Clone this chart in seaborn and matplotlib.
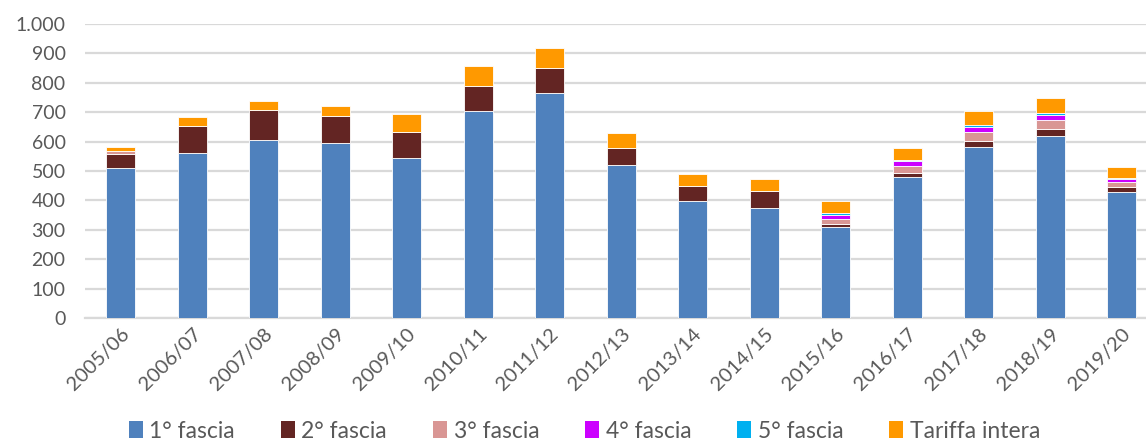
import numpy as np
import pandas as pd
import matplotlib
matplotlib.use("Agg")
import matplotlib.pyplot as plt
from matplotlib.patches import Patch
import seaborn as sns

years = ["2005/06", "2006/07", "2007/08", "2008/09", "2009/10", "2010/11", "2011/12",
         "2012/13", "2013/14", "2014/15", "2015/16", "2016/17", "2017/18", "2018/19", "2019/20"]
fascia1 = [510, 562, 607, 594, 543, 704, 765, 521, 398, 375, 310, 479, 582, 620, 428]
fascia2 = [49, 92, 102, 94, 89, 86, 84, 58, 51, 56, 10, 14, 21, 24, 17]
fascia3 = [8, 0, 0, 0, 0, 0, 0, 0, 0, 0, 18, 24, 30, 29, 18]
fascia4 = [0, 0, 0, 0, 0, 0, 0, 0, 0, 0, 14, 16, 16, 16, 11]
fascia5 = [0, 0, 0, 0, 0, 0, 0, 0, 0, 0, 5, 4, 6, 7, 3]
tariffa = [14, 31, 29, 33, 62, 68, 68, 49, 41, 42, 40, 41, 48, 52, 37]

series_names = ["1° fascia", "2° fascia", "3° fascia", "4° fascia", "5° fascia", "Tariffa intera"]
series_vals = [fascia1, fascia2, fascia3, fascia4, fascia5, tariffa]
colors = ["#4F81BD", "#632523", "#D99694", "#CC00FF", "#00B0F0", "#FF9900"]
yticks = [0, 100, 200, 300, 400, 500, 600, 700, 800, 900, 1000]
ytick_labels = ["0", "100", "200", "300", "400", "500", "600", "700", "800", "900", "1.000"]

sns.set_theme(style="white")
plt.rcParams["font.family"] = ["Lato", "DejaVu Sans"]

fig = plt.figure(figsize=(11.46, 4.43), dpi=100)
ax = fig.add_axes([85 / 1146, 1 - 318 / 443, 1072.5 / 1146, 294 / 443])

bottom = np.zeros(len(years))
for name, vals, col in zip(series_names, series_vals, colors):
    df = pd.DataFrame({"anno": years, "v": vals})
    sns.barplot(data=df, x="anno", y="v", bottom=bottom, color=col, width=0.41,
                edgecolor="#FFFFFF", linewidth=0.6, ax=ax, saturation=1, zorder=3)
    bottom = bottom + np.array(vals)

ax.set_ylim(0, 1000)
ax.set_xlim(-0.5, len(years) - 0.5)
ax.set_yticks(yticks)
ax.set_yticklabels(ytick_labels, fontsize=14, color="#595959")
ax.yaxis.grid(True, color="#D9D9D9", linewidth=1.6, zorder=0)
ax.set_axisbelow(True)
for s in ["top", "right", "left"]:
    ax.spines[s].set_visible(False)
ax.spines["bottom"].set_color("#D9D9D9")
ax.spines["bottom"].set_linewidth(1.6)
ax.tick_params(axis="y", length=0, pad=14)
ax.tick_params(axis="x", length=0, pad=5)
ax.set_xticks(range(len(years)))
ax.set_xticklabels(years, rotation=45, ha="right", rotation_mode="anchor",
                   fontsize=14.5, color="#595959")
ax.set_xlabel("")
ax.set_ylabel("")

handles = [Patch(facecolor=c, edgecolor="none") for c in colors]
fig.legend(handles, series_names, loc="center", bbox_to_anchor=(0.51, 0.027), ncol=6,
           frameon=False, fontsize=16.5, handlelength=0.6, handleheight=0.75,
           handletextpad=0.3, columnspacing=2.0, labelcolor="#595959")

fig.savefig("out.png", dpi=100)
